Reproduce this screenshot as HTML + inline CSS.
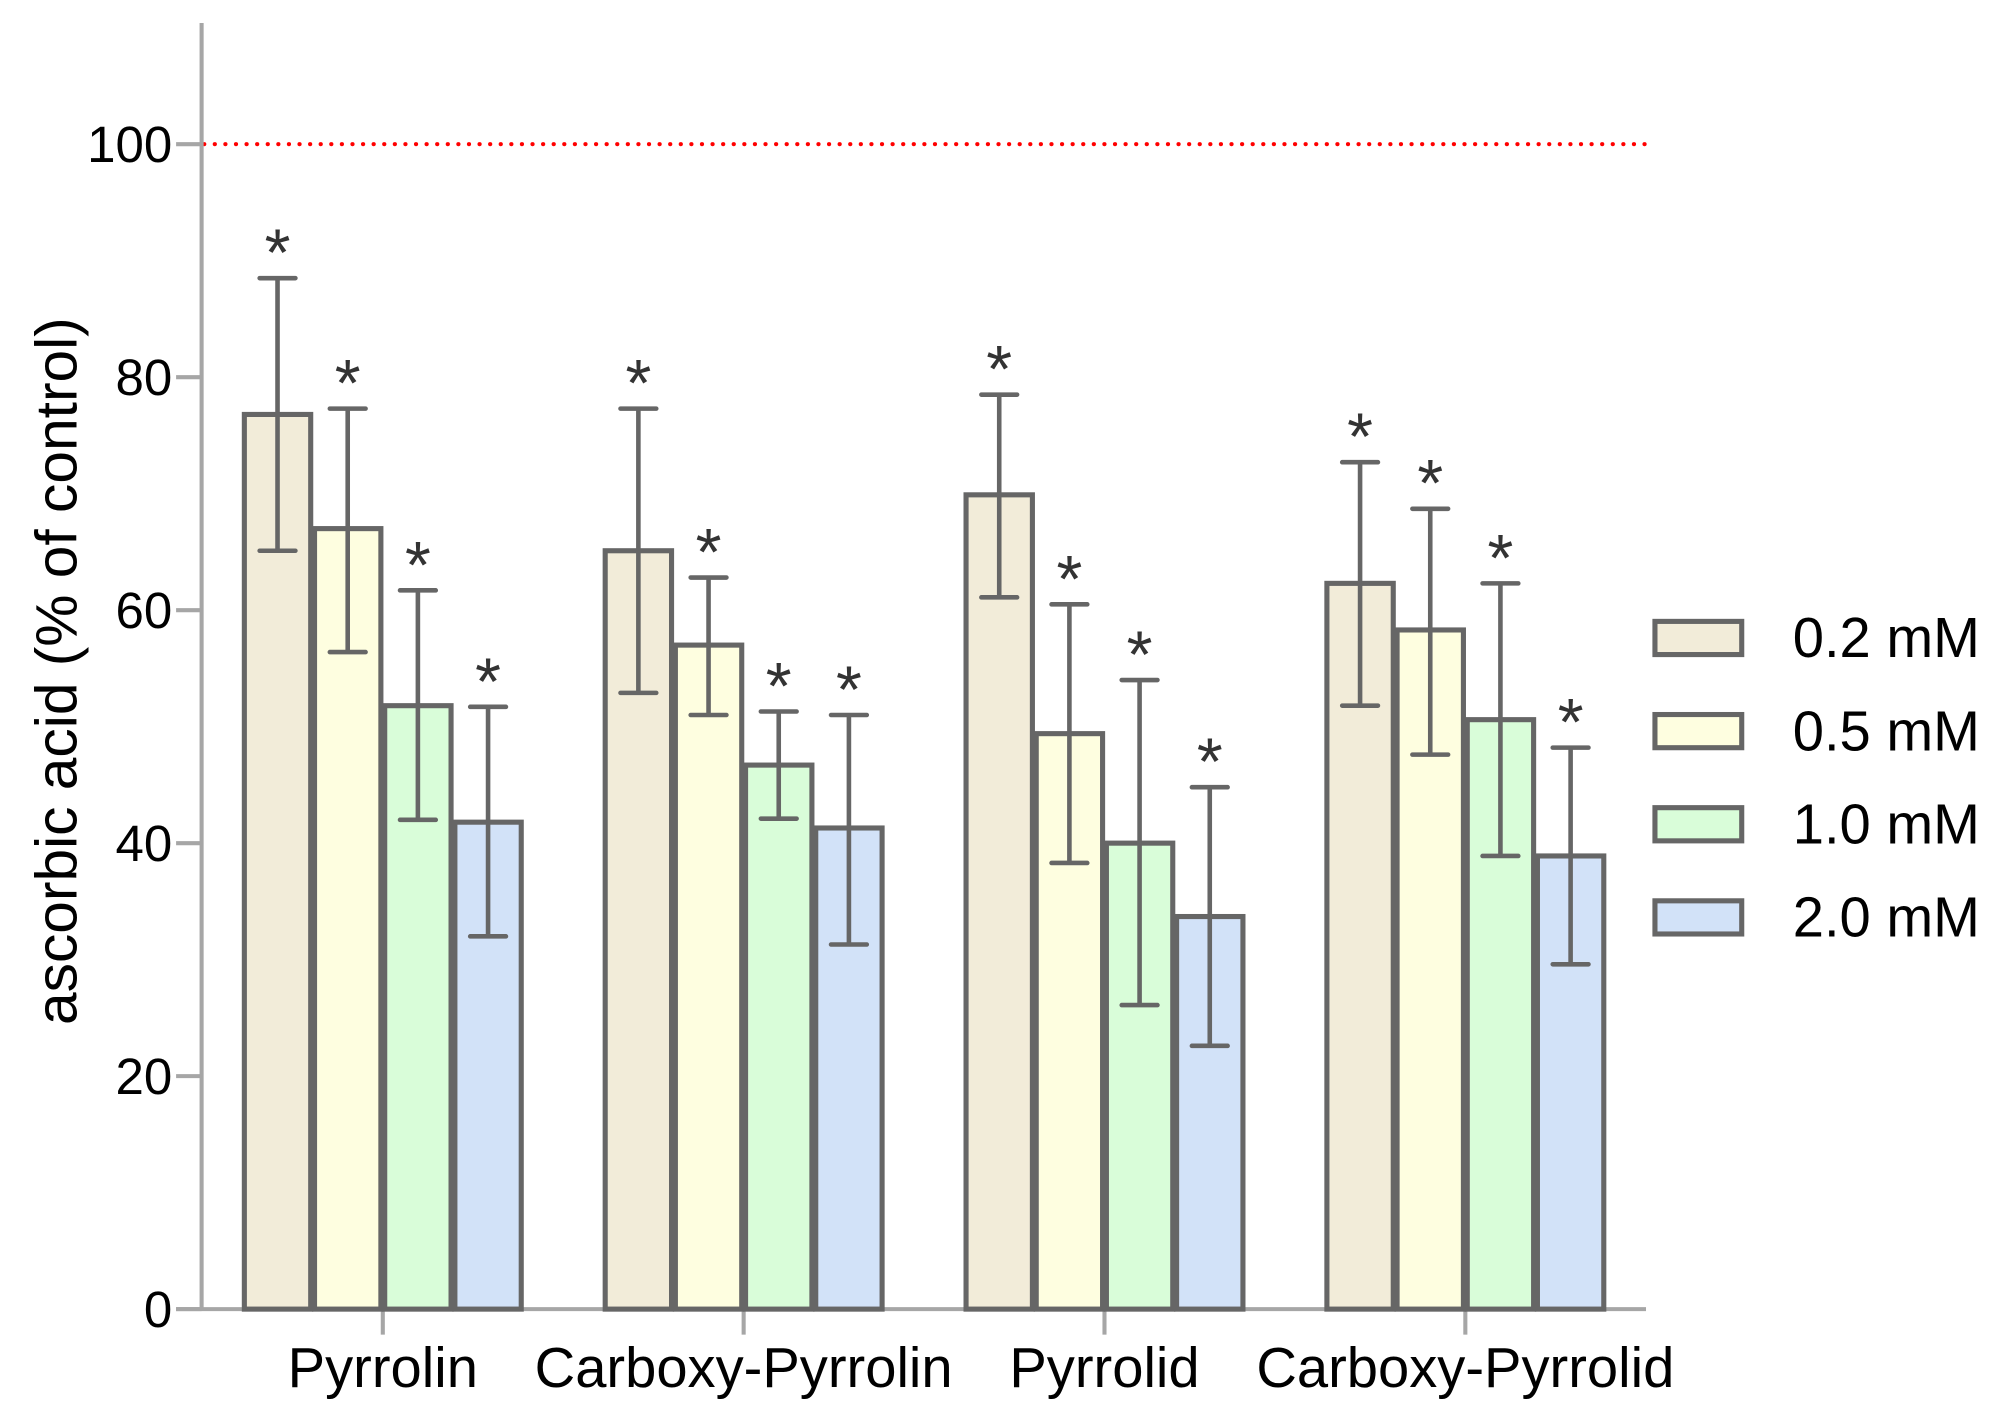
<!DOCTYPE html>
<html><head><meta charset="utf-8"><style>
html,body{margin:0;padding:0;background:#fff;}
svg{display:block;font-family:"Liberation Sans",Arial,sans-serif;}
</style></head><body>
<svg id="chart" width="2001" height="1426" viewBox="0 0 1568.2 1117.6" preserveAspectRatio="none" xmlns="http://www.w3.org/2000/svg">
<g id="axes"></g>
<g id="bars"></g>
<g id="legend"></g>
<text transform="translate(60,526) rotate(-90)" text-anchor="middle" font-size="46">ascorbic acid (% of control)</text>
</svg>
<script>
const categories = ["Pyrrolin","Carboxy-Pyrrolin","Pyrrolid","Carboxy-Pyrrolid"];
const seriesNames = ["0.2 mM","0.5 mM","1.0 mM","2.0 mM"];
const means = [[76.8,65.1,69.9,62.3],[67.0,57.0,49.4,58.3],[51.8,46.7,40.0,50.6],[41.8,41.3,33.7,38.9]];
const upper = [[88.5,77.3,78.5,72.7],[77.3,62.8,60.5,68.7],[61.7,51.3,54.0,62.3],[51.7,51.0,44.8,48.2]];
const lower = [[65.1,52.9,61.1,51.8],[56.4,51.0,38.3,47.6],[42.0,42.1,26.1,38.9],[32.0,31.3,22.6,29.6]];
const yTicks = [0,20,40,60,80,100];
const refValue = 100;
const colors = ["#f2ecd9","#fefee0","#d9fdd9","#d2e2f8"];

const NS="http://www.w3.org/2000/svg";
const y0=1026, pxPerUnit=9.13;
function yScale(v){return y0 - v*pxPerUnit;}
function xCenter(i){return 300 + i*282.8;}
const barW=55;
function mk(tag,attrs,parent){const e=document.createElementNS(NS,tag);for(const k in attrs)e.setAttribute(k,attrs[k]);parent.appendChild(e);return e;}
const axes=document.getElementById('axes'), bars=document.getElementById('bars'), legend=document.getElementById('legend');

let rl=mk('line',{x1:160,x2:1295,y1:yScale(refValue),y2:yScale(refValue),stroke:'#ff0000','stroke-width':3.2,'stroke-dasharray':'0.1 8.2','stroke-linecap':'round'},axes);



let ya=mk('line',{x1:158,x2:158,y1:18,y2:y0,stroke:'#a6a6a6','stroke-width':3.2},axes);


yTicks.forEach(t=>{
  const tk=mk('line',{x1:138,x2:158,y1:yScale(t),y2:yScale(t),stroke:'#a6a6a6','stroke-width':3.2},axes);
  
  
  const tl=mk('text',{x:135,y:yScale(t)+14,'text-anchor':'end','font-size':40},axes);
  tl.textContent=t;
  
  
});
let xa=mk('line',{x1:138,x2:1290,y1:y0,y2:y0,stroke:'#a6a6a6','stroke-width':3.2},axes);


categories.forEach((c,i)=>{
  const tk=mk('line',{x1:xCenter(i),x2:xCenter(i),y1:y0,y2:y0+20,stroke:'#a6a6a6','stroke-width':3.2},axes);
  
  
  const tl=mk('text',{x:xCenter(i),y:1087,'text-anchor':'middle','font-size':44},axes);
  tl.textContent=c;
  
  
});

for(let s=0;s<seriesNames.length;s++){
  for(let i=0;i<categories.length;i++){
    const cx=xCenter(i)+(s-1.5)*barW;
    const top=yScale(means[s][i]);
    const r=mk('rect',{x:cx-barW/2+1.5,y:top,width:barW-3,height:y0-top,fill:colors[s],stroke:'#666','stroke-width':4},bars);
    
    
    const yu=yScale(upper[s][i]), yl=yScale(lower[s][i]);
    const eb=mk('path',{d:`M${cx},${yu}V${yl}M${cx-14},${yu}H${cx+14}M${cx-14},${yl}H${cx+14}`,stroke:'#666','stroke-width':3.6,fill:'none','stroke-linecap':'round'},bars);
    
    
    const st=mk('text',{x:cx,y:yu-2,'text-anchor':'middle','font-size':52,fill:'#333'},bars);
    st.textContent='*';
    
    
  }
}

seriesNames.forEach((n,s)=>{
  const cy=500+s*73;
  const g=mk('g',{},legend);
  
  
  mk('rect',{x:1297,y:cy-13,width:68,height:26,fill:colors[s],stroke:'#666','stroke-width':4},g);
  const t=mk('text',{x:1405,y:cy+15,'font-size':44},g);
  t.textContent=n;
});
</script>
</body></html>
